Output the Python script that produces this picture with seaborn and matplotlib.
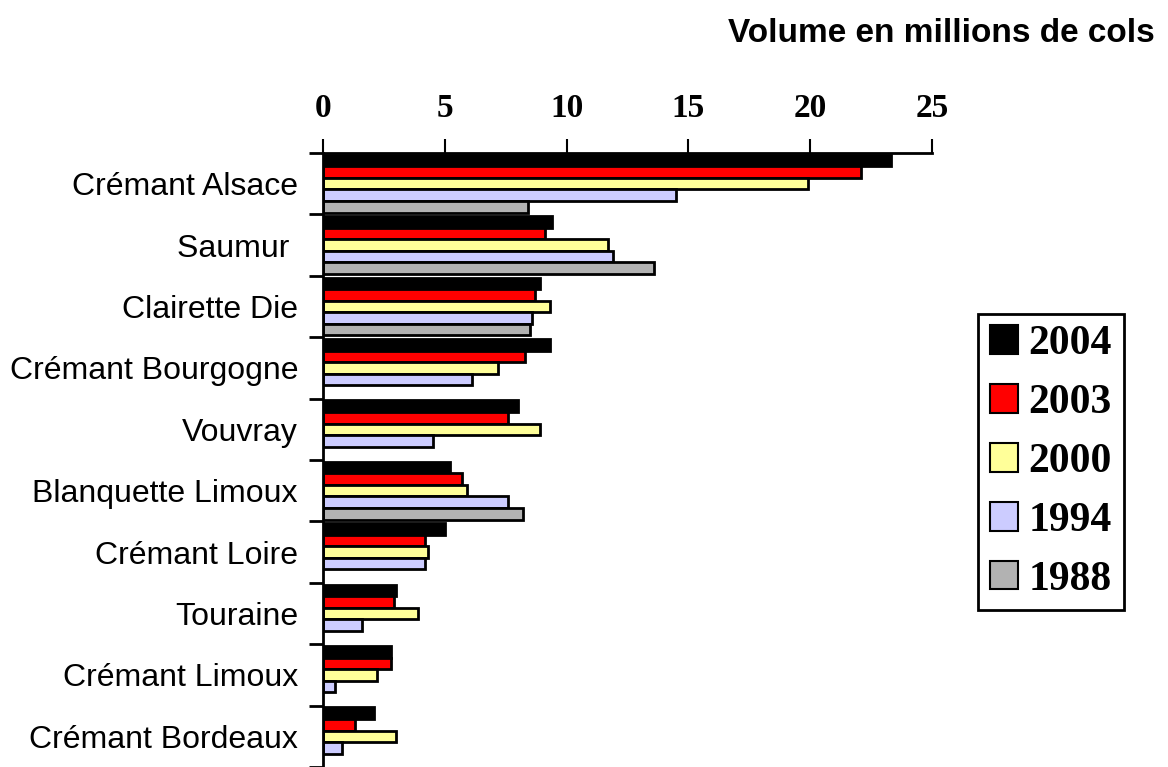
import numpy as np
import pandas as pd
import seaborn as sns
import matplotlib.pyplot as plt
from matplotlib.patches import Patch

appellations = ["Crémant Alsace", "Saumur ", "Clairette Die", "Crémant Bourgogne",
                "Vouvray", "Blanquette Limoux", "Crémant Loire", "Touraine",
                "Crémant Limoux", "Crémant Bordeaux"]
years = ["2004", "2003", "2000", "1994", "1988"]
v2004 = [23.3, 9.4, 8.9, 9.3, 8.0, 5.2, 5.0, 3.0, 2.8, 2.1]
v2003 = [22.1, 9.1, 8.7, 8.3, 7.6, 5.7, 4.2, 2.9, 2.8, 1.3]
v2000 = [19.9, 11.7, 9.3, 7.2, 8.9, 5.9, 4.3, 3.9, 2.2, 3.0]
v1994 = [14.5, 11.9, 8.6, 6.1, 4.5, 7.6, 4.2, 1.6, 0.5, 0.8]
v1988 = [8.4, 13.6, 8.5, np.nan, np.nan, 8.2, np.nan, np.nan, np.nan, np.nan]
colors = ["#000000", "#FF0000", "#FFFF99", "#CCCCFF", "#B2B2B2"]

rows = []
for yr, vals in zip(years, [v2004, v2003, v2000, v1994, v1988]):
    for app, v in zip(appellations, vals):
        rows.append({"appellation": app, "annee": yr, "volume": v})
df = pd.DataFrame(rows)

sns.set_style("white")
plt.rcParams.update({"text.color": "black", "xtick.color": "black",
                     "ytick.color": "black", "axes.edgecolor": "black"})
serif = ["Liberation Serif", "DejaVu Serif"]
sans = ["Liberation Sans", "DejaVu Sans"]

fig = plt.figure(figsize=(11.68, 7.67), dpi=100)
ax = fig.add_axes([323 / 1168, 0, (932 - 323) / 1168, 614 / 767])

sns.barplot(data=df, y="appellation", x="volume", hue="annee", orient="h",
            order=appellations, hue_order=years, palette=colors, saturation=1,
            width=0.94, edgecolor="black", linewidth=2, legend=False,
            errorbar=None, ax=ax)

ax.set_xlim(0, 25)
ax.set_ylim(len(appellations) - 0.5, -0.5)
ax.xaxis.tick_top()
ax.set_xticks(range(0, 26, 5))
ax.set_xticklabels([str(t) for t in range(0, 26, 5)],
                   fontfamily=serif, fontweight="bold", fontsize=24)
ax.tick_params(axis="x", direction="out", length=10, width=1.5, pad=11, color="black")
ax.set_yticks(range(len(appellations)))
ax.set_yticklabels(appellations, fontfamily=sans, fontsize=23)
ax.set_yticks(np.arange(len(appellations) + 1) - 0.5, minor=True)
ax.tick_params(axis="y", which="major", length=0, pad=18)
ax.tick_params(axis="y", which="minor", direction="out", length=10, width=2, color="black", left=True)
ax.set_xlabel("")
ax.set_ylabel("")
for s in ["right", "bottom"]:
    ax.spines[s].set_visible(False)
for s in ["top", "left"]:
    ax.spines[s].set_color("black")
    ax.spines[s].set_linewidth(2)

fig.text(1155 / 1168, 1 - 33 / 767, "Volume en millions de cols", ha="right", va="center",
         fontfamily=sans, fontweight="bold", fontsize=24)

handles = [Patch(facecolor=c, edgecolor="black", linewidth=1.5) for c in colors]
leg = fig.legend(handles, years, loc="center", bbox_to_anchor=(1051 / 1168, 1 - 462 / 767),
                 prop={"family": serif, "weight": "bold", "size": 30},
                 handlelength=0.68, handleheight=0.68, handletextpad=0.25,
                 labelspacing=0.5, borderpad=0.28, fancybox=False, frameon=True,
                 framealpha=1, borderaxespad=0)
leg.get_frame().set_edgecolor("black")
leg.get_frame().set_linewidth(2)

plt.savefig("out.png", dpi=100)
